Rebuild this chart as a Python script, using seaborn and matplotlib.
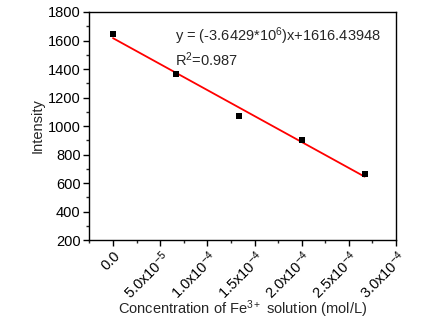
import numpy as np
import pandas as pd
import matplotlib
matplotlib.use("Agg")
import matplotlib.pyplot as plt
from matplotlib.ticker import AutoMinorLocator
import seaborn as sns

# Measured data
concentration = [0.0, 6.67e-5, 1.333e-4, 2.0e-4, 2.667e-4]
intensity = [1647, 1364, 1067, 900, 666]

# Linear fit coefficients
slope = -3.6429e6
intercept = 1616.43948
r_squared = 0.987

x_ticks = [0.0, 5e-5, 1e-4, 1.5e-4, 2e-4, 2.5e-4, 3e-4]
x_tick_labels = ["0.0", r"5.0x10$^{-5}$", r"1.0x10$^{-4}$", r"1.5x10$^{-4}$",
                 r"2.0x10$^{-4}$", r"2.5x10$^{-4}$", r"3.0x10$^{-4}$"]
y_ticks = [200, 400, 600, 800, 1000, 1200, 1400, 1600, 1800]

sns.set_theme(style="ticks")
plt.rcParams["font.family"] = ["Liberation Sans", "DejaVu Sans"]
plt.rcParams["mathtext.fontset"] = "custom"
plt.rcParams["mathtext.rm"] = "Liberation Sans"
plt.rcParams["mathtext.it"] = "Liberation Sans"
plt.rcParams["mathtext.default"] = "regular"

FS = 10.5

df = pd.DataFrame({"conc": concentration, "intensity": intensity})
fit_x = np.array([concentration[0], concentration[-1]])
fit_df = pd.DataFrame({"conc": fit_x, "fit": slope * fit_x + intercept})

fig = plt.figure(figsize=(4.47, 3.24), dpi=100)
ax = fig.add_axes([0.199, 0.259, 0.687, 0.704])

sns.lineplot(data=fit_df, x="conc", y="fit", color="red", linewidth=1.3, ax=ax)
sns.scatterplot(data=df, x="conc", y="intensity", marker="s", color="black",
                s=13, edgecolor="black", linewidth=0, ax=ax, zorder=3)

ax.set_xlim(-2.55e-5, 3.0e-4)
ax.set_ylim(200, 1800)
ax.set_xticks(x_ticks)
ax.set_xticklabels(x_tick_labels, rotation=45, ha="right", rotation_mode="anchor")
ax.set_yticks(y_ticks)
ax.xaxis.set_minor_locator(AutoMinorLocator(2))
ax.yaxis.set_minor_locator(AutoMinorLocator(2))

ax.tick_params(axis="both", which="major", direction="out", length=4, width=1,
               labelsize=FS, colors="black", pad=2)
ax.tick_params(axis="both", which="minor", direction="out", length=2, width=1)
for sp in ax.spines.values():
    sp.set_linewidth(1.0)
    sp.set_color("black")

ax.set_xlabel(r"Concentration of Fe$^{3+}$ solution (mol/L)", fontsize=FS, labelpad=-3)
ax.set_ylabel("Intensity", fontsize=FS, labelpad=2)

ax.text(0.28, 0.895, r"y = (-3.6429*10$^{6}$)x+1616.43948", transform=ax.transAxes,
        fontsize=FS, va="center", ha="left")
ax.text(0.28, 0.79, r"R$^{2}$=%.3f" % r_squared, transform=ax.transAxes,
        fontsize=FS, va="center", ha="left")

fig.savefig("out.png", dpi=100, facecolor="white")
